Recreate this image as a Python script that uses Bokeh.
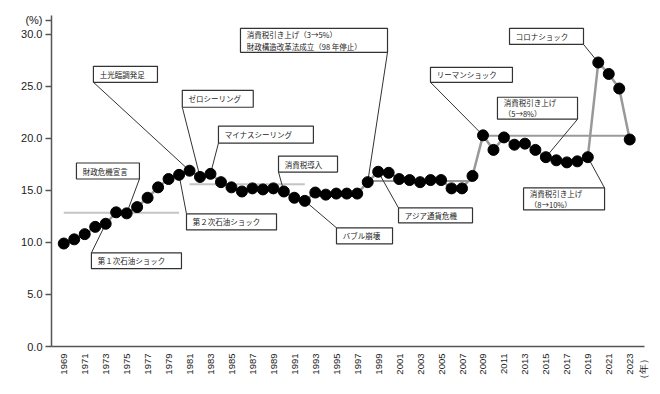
import math
from bokeh.plotting import figure
from bokeh.models import Range1d, FixedTicker, PrintfTickFormatter, ColumnDataSource
from bokeh.core.properties import value
from bokeh.embed import file_html
from bokeh.resources import INLINE

# ---------------- data ----------------
years = list(range(1969, 2024))
ratio = [9.9, 10.3, 10.8, 11.5, 11.8, 12.9, 12.8, 13.4, 14.3, 15.3,
         16.1, 16.5, 16.9, 16.3, 16.6, 15.8, 15.3, 14.9, 15.2, 15.1,
         15.2, 14.9, 14.3, 14.0, 14.8, 14.6, 14.7, 14.7, 14.7, 15.8,
         16.8, 16.7, 16.1, 16.0, 15.8, 16.0, 16.0, 15.2, 15.2, 16.4,
         20.3, 18.9, 20.1, 19.4, 19.5, 18.9, 18.2, 17.9, 17.7, 17.8,
         18.2, 27.3, 26.2, 24.8, 19.9]

# period average lines
avg_start = [1969, 1981, 1993, 1998, 2009]
avg_end = [1980, 1992, 1997, 2008, 2023]
avg_value = [12.85, 15.6, 14.5, 15.9, 20.25]

y_ticks = [0, 5, 10, 15, 20, 25, 30]
x_tick_years = list(range(1969, 2024, 2))
y_unit_label = "(%)"
x_unit_label = "（年）"

# annotations: text lines, target year
note_text = [
    ["土光臨調発足"],
    ["ゼロシーリング"],
    ["マイナスシーリング"],
    ["消費税導入"],
    ["消費税引き上げ（3→5%）", "財政構造改革法成立（98 年停止）"],
    ["財政危機宣言"],
    ["第１次石油ショック"],
    ["第２次石油ショック"],
    ["バブル崩壊"],
    ["アジア通貨危機"],
    ["リーマンショック"],
    ["消費税引き上げ", "（5→8%）"],
    ["消費税引き上げ", "（8→10%）"],
    ["コロナショック"],
]
note_target = [1981, 1982, 1983, 1990, 1998, 1975, 1973, 1980, 1992, 1999, 2009, 2015, 2019, 2020]

# ---------------- layout of annotation boxes (data coords) ----------------
box_x0 = [1971.83, 1980.31, 1983.76, 1989.49, 1985.86, 1970.21, 1971.64, 1980.71, 1995.02, 2000.94, 2003.99, 2010.38, 2012.87, 2011.53]
box_x1 = [1977.94, 1987.08, 1992.82, 1995.12, 1999.89, 1976.22, 1980.23, 1989.30, 2000.37, 2008.00, 2011.81, 2018.02, 2020.60, 2018.59]
box_y0 = [25.40, 23.00, 19.55, 16.77, 28.28, 16.10, 7.48, 11.21, 9.87, 11.89, 25.40, 21.85, 13.13, 29.04]
box_y1 = [26.93, 24.63, 21.18, 18.31, 30.58, 17.64, 9.01, 12.75, 11.41, 13.32, 26.84, 23.96, 15.24, 30.58]
# leader anchor corner: 0 = bottom-left, 1 = bottom-right, 2 = top-left, 3 = top-right
anchor = [0, 0, 0, 0, 1, 1, 2, 2, 2, 2, 0, 1, 3, 1]

# positions of the unit labels (drawn as axis tick labels)
y_unit_pos = 31.34
x_unit_pos = 2024.31

p = figure(width=652, height=386, output_backend="svg", toolbar_location=None,
           x_range=Range1d(1967.83, 2024.41), y_range=Range1d(0, 31.82),
           min_border_left=51, min_border_right=8, min_border_top=15, min_border_bottom=39)
p.outline_line_color = None
p.xgrid.grid_line_color = None
p.ygrid.grid_line_color = None
p.background_fill_color = "white"
p.border_fill_color = "white"

axis_col = "#555555"
p.yaxis.ticker = FixedTicker(ticks=y_ticks + [y_unit_pos])
p.yaxis.formatter = PrintfTickFormatter(format="%.1f")
p.yaxis.major_label_overrides = {y_unit_pos: y_unit_label}
p.yaxis.major_tick_out = 6
p.yaxis.major_tick_in = 0
p.yaxis.minor_tick_out = 0
p.yaxis.minor_tick_in = 0
p.yaxis.major_label_standoff = 3
p.yaxis.major_label_text_font = "Liberation Sans"
p.yaxis.major_label_text_font_size = "11px"
p.yaxis.major_label_text_color = "#222222"

p.xaxis.ticker = FixedTicker(ticks=x_tick_years + [x_unit_pos])
p.xaxis.major_label_overrides = {x_unit_pos: x_unit_label}
p.xaxis.major_label_orientation = math.pi / 2
p.xaxis.major_tick_out = 0
p.xaxis.major_tick_in = 0
p.xaxis.minor_tick_out = 0
p.xaxis.minor_tick_in = 0
p.xaxis.major_label_standoff = 7
p.xaxis.major_label_text_font = "Liberation Sans"
p.xaxis.major_label_text_font_size = "9.5px"
p.xaxis.major_label_text_color = "#222222"

for ax in (p.xaxis, p.yaxis):
    ax.axis_line_color = axis_col
    ax.axis_line_width = 1.5
    ax.major_tick_line_color = axis_col
    ax.major_tick_line_width = 1.5

# average lines
avg_colors = ["#c4c4c4", "#c4c4c4", "#6a6a6a", "#9a9a9a", "#9a9a9a"]
p.segment(x0=avg_start, y0=avg_value, x1=avg_end, y1=avg_value,
          line_color=avg_colors, line_width=2)

# leader lines
lx0, ly0, lx1, ly1 = [], [], [], []
for i, t in enumerate(note_target):
    a = anchor[i]
    lx0.append(box_x0[i] if a in (0, 2) else box_x1[i])
    ly0.append(box_y0[i] if a in (0, 1) else box_y1[i])
    lx1.append(t)
    ly1.append(ratio[years.index(t)])
p.segment(x0=lx0, y0=ly0, x1=lx1, y1=ly1, line_color="#333333", line_width=1)

# data line + markers
src = ColumnDataSource(dict(year=years, ratio=ratio))
p.line("year", "ratio", source=src, line_color="#999999", line_width=2.5)
p.scatter("year", "ratio", source=src, size=11, fill_color="black", line_color="black")

# boxes
p.quad(left=box_x0, right=box_x1, bottom=box_y0, top=box_y1,
       fill_color="white", line_color="#333333", line_width=1.2)

tx, ty, tt = [], [], []
for i, lines in enumerate(note_text):
    n = len(lines)
    h = box_y1[i] - box_y0[i]
    for k, s in enumerate(lines):
        tx.append(box_x0[i] + 0.6)
        ty.append(box_y1[i] - h * (k + 0.5) / n)
        tt.append(s)
p.text(x=tx, y=ty, text=tt, text_font=value("Noto Sans CJK JP"), text_font_size="7.5px",
       text_baseline="middle", text_align="left", text_color="#222222")

open("out.html", "w").write(file_html(p, INLINE))
